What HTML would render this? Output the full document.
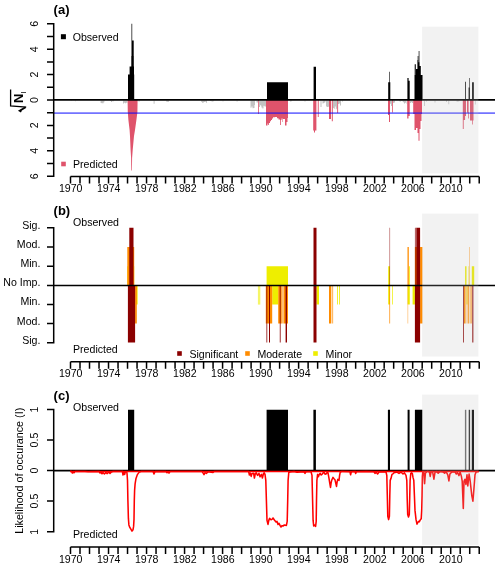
<!DOCTYPE html>
<html><head><meta charset="utf-8"><title>figure</title>
<style>
html,body{margin:0;padding:0;background:#fff}
svg{display:block}
text{font-family:"Liberation Sans",sans-serif;fill:#000}
.t{font-size:10.6px}
.l{font-size:10.6px}
.h{font-size:13px;font-weight:bold}
.ax{stroke:#000;stroke-width:1.5;fill:none}
</style></head><body>
<svg width="500" height="568" viewBox="0 0 500 568">
<rect width="500" height="568" fill="#fff"/>
<!-- panel a -->
<path d="M70.8 100.5H71.6V101.0H70.8ZM75.2 100.5H76.0V101.2H75.2ZM100.6 100.5H101.6V102.9H100.6ZM101.6 100.5H102.6V103.3H101.6ZM102.6 100.5H103.6V103.3H102.6ZM103.6 100.5H104.4V102.3H103.6ZM110.0 100.5H111.0V101.1H110.0ZM111.0 100.5H112.0V101.9H111.0ZM112.0 100.5H113.0V101.3H112.0ZM113.0 100.5H114.0V101.3H113.0ZM123.0 100.5H124.0V103.5H123.0ZM124.0 100.5H125.0V102.7H124.0ZM125.0 100.5H126.0V103.2H125.0ZM126.0 100.5H127.0V102.7H126.0ZM127.0 100.5H127.4V102.9H127.0ZM138.4 100.5H139.4V101.5H138.4ZM139.4 100.5H139.6V102.1H139.4ZM153.6 100.5H154.6V103.8H153.6ZM166.0 100.5H167.0V101.6H166.0ZM167.0 100.5H168.0V101.8H167.0ZM168.0 100.5H169.0V101.7H168.0ZM201.0 100.5H202.0V101.7H201.0ZM202.0 100.5H203.0V102.7H202.0ZM203.0 100.5H204.0V102.4H203.0ZM204.0 100.5H205.0V102.1H204.0ZM205.0 100.5H206.0V101.7H205.0ZM206.0 100.5H207.0V102.8H206.0ZM210.0 100.5H211.0V101.1H210.0ZM211.0 100.5H212.0V101.3H211.0ZM212.0 100.5H213.0V101.4H212.0ZM213.0 100.5H214.0V101.3H213.0ZM222.6 100.5H223.4V101.4H222.6ZM236.6 100.5H237.6V101.5H236.6ZM250.5 100.5H251.5V107.7H250.5ZM251.5 100.5H252.5V106.4H251.5ZM252.5 100.5H253.5V108.3H252.5ZM253.5 100.5H254.5V108.0H253.5ZM254.5 100.5H255.0V105.0H254.5ZM256.5 100.5H257.5V102.4H256.5ZM257.5 100.5H258.0V102.6H257.5ZM259.0 100.5H260.0V106.9H259.0ZM260.0 100.5H261.0V105.2H260.0ZM261.0 100.5H261.4V105.8H261.0ZM261.4 100.5H262.4V107.5H261.4ZM262.4 100.5H263.4V108.6H262.4ZM263.4 100.5H263.5V108.0H263.4ZM263.5 100.5H264.5V105.7H263.5ZM264.5 100.5H265.5V106.5H264.5ZM265.5 100.5H266.0V106.5H265.5ZM290.0 100.5H291.0V101.4H290.0ZM291.0 100.5H292.0V101.3H291.0ZM304.5 100.5H305.5V101.5H304.5ZM320.5 100.5H321.5V107.0H320.5ZM322.5 100.5H323.5V103.5H322.5ZM323.5 100.5H324.5V103.0H323.5ZM324.5 100.5H325.5V102.2H324.5ZM326.0 100.5H327.0V106.6H326.0ZM327.0 100.5H328.0V106.9H327.0ZM328.0 100.5H329.0V106.7H328.0ZM332.8 100.5H333.8V108.1H332.8ZM333.8 100.5H334.8V108.7H333.8ZM334.8 100.5H335.8V106.5H334.8ZM335.8 100.5H336.8V109.2H335.8ZM336.8 100.5H337.2V108.1H336.8ZM338.0 100.5H339.0V104.1H338.0ZM339.0 100.5H340.0V103.5H339.0ZM340.0 100.5H341.0V105.6H340.0ZM342.0 100.5H343.0V101.5H342.0ZM390.0 100.5H391.0V103.8H390.0ZM391.0 100.5H392.0V105.9H391.0ZM392.8 100.5H393.8V102.9H392.8ZM393.8 100.5H394.8V102.5H393.8ZM394.8 100.5H395.0V102.7H394.8ZM399.0 100.5H400.0V101.3H399.0ZM400.0 100.5H401.0V101.4H400.0ZM401.0 100.5H402.0V100.9H401.0ZM402.0 100.5H403.0V101.2H402.0ZM403.0 100.5H404.0V102.3H403.0ZM404.0 100.5H405.0V103.5H404.0ZM405.0 100.5H406.0V102.8H405.0ZM406.0 100.5H406.5V103.8H406.0ZM410.0 100.5H411.0V103.0H410.0ZM411.0 100.5H412.0V102.3H411.0ZM412.0 100.5H413.0V103.0H412.0ZM424.0 100.5H424.8V105.9H424.0ZM426.2 100.5H427.0V101.5H426.2ZM434.6 100.5H435.4V102.5H434.6ZM446.0 100.5H447.0V101.7H446.0ZM448.4 100.5H449.2V104.2H448.4ZM456.5 100.5H457.5V101.5H456.5ZM457.5 100.5H458.5V101.6H457.5ZM458.5 100.5H459.5V101.2H458.5ZM474.9 100.5H475.6V104.6H474.9Z" fill="#c2c2c2"/>
<path d="M258.1 100.0H258.9V114.0H258.1ZM266.0 100.0H267.5V125.5H266.0ZM267.5 100.0H268.2V123.5H267.5ZM268.2 100.0H269.0V125.0H268.2ZM269.0 100.0H270.0V123.0H269.0ZM270.0 100.0H271.0V121.2H270.0ZM271.0 100.0H272.0V120.0H271.0ZM272.0 100.0H273.0V118.5H272.0ZM273.0 100.0H275.0V117.2H273.0ZM275.0 100.0H277.0V117.0H275.0ZM277.0 100.0H278.5V118.2H277.0ZM278.5 100.0H280.0V119.5H278.5ZM280.0 100.0H280.8V125.0H280.0ZM280.8 100.0H281.5V120.0H280.8ZM281.5 100.0H282.5V118.5H281.5ZM282.5 100.0H283.0V122.0H282.5ZM283.0 100.0H285.0V119.0H283.0ZM285.0 100.0H286.5V125.5H285.0ZM286.5 100.0H287.5V122.0H286.5ZM287.5 100.0H288.0V118.0H287.5ZM313.2 100.0H316.4V130.5H313.2ZM314.0 130.5H315.0V132.5H314.0ZM317.8 100.0H318.7V117.0H317.8ZM329.0 100.0H331.0V119.0H329.0ZM331.8 100.0H332.8V121.2H331.8ZM337.2 100.0H338.1V113.0H337.2ZM388.0 100.0H390.0V115.0H388.0ZM389.0 115.0H390.0V122.0H389.0ZM392.0 100.0H392.8V112.5H392.0ZM407.2 100.0H409.7V116.0H407.2ZM407.2 116.0H408.5V118.5H407.2ZM413.2 100.0H422.0V114.0H413.2ZM414.5 114.0H421.5V121.0H414.5ZM414.5 121.0H420.5V128.0H414.5ZM414.5 128.0H416.0V130.0H414.5ZM417.5 128.0H420.5V129.0H417.5ZM417.5 129.0H419.5V133.0H417.5ZM418.5 133.0H419.5V140.7H418.5Z" fill="#df536b"/>
<path d="M127.6 100L127.8 112L128.4 120L129.6 130L130 136L130.6 150L131.1 158L131.3 170.6H131.9L132.1 158L132.7 150L134 136L135 130L136.4 120L137.4 112L137.6 100Z" fill="#df536b"/>
<path d="M462.8 100.0H463.7V129.0H462.8ZM463.7 100.0H465.1V120.0H463.7ZM465.1 100.0H466.0V116.0H465.1ZM467.0 100.0H468.6V112.8H467.0ZM468.2 112.0H468.9V118.5H468.2ZM470.0 100.0H473.5V120.6H470.0ZM472.1 120.0H472.8V124.5H472.1Z" fill="#df536b"/>
<path d="M53.7 113.1H495" stroke="#0000ff" stroke-opacity="0.55" stroke-width="1.8" fill="none"/>
<path d="M128.0 74.6H134.2V100.0H128.0ZM129.6 66.6H134.0V74.6H129.6ZM131.3 56.0H133.8V66.6H131.3ZM131.5 40.4H133.7V56.0H131.5ZM131.5 23.7H132.2V40.4H131.5ZM267.0 82.2H288.0V100.0H267.0ZM313.6 66.8H316.0V100.0H313.6ZM388.2 82.3H390.3V100.0H388.2ZM389.4 71.7H390.0V82.3H389.4ZM407.4 80.7H409.7V100.0H407.4ZM407.4 78.1H408.6V80.7H407.4ZM414.5 74.9H422.6V100.0H414.5ZM414.7 64.2H415.8V75.0H414.7ZM416.0 69.0H417.4V75.0H416.0ZM417.4 60.0H418.4V75.0H417.4ZM417.7 55.9H418.3V60.0H417.7ZM418.4 62.3H419.6V75.0H418.4ZM418.7 51.0H419.4V62.3H418.7ZM419.6 66.0H420.8V75.0H419.6Z" fill="#000"/>
<path d="M465.1 81.8H465.9V100.0H465.1ZM468.6 87.5H469.9V100.0H468.6ZM469.2 78.0H469.8V87.5H469.2ZM472.1 82.3H473.8V100.0H472.1Z" fill="#000"/>
<path d="M53.7 99.9H495" stroke="#000" stroke-width="1.6" fill="none"/>
<path class="ax" d="M53.7 23.05V176.95M47 23.80H53.7M47 36.50H53.7M47 49.20H53.7M47 61.90H53.7M47 74.60H53.7M47 87.30H53.7M47 100.00H53.7M47 112.70H53.7M47 125.40H53.7M47 138.10H53.7M47 150.80H53.7M47 163.50H53.7M47 176.20H53.7"/>
<text class="t" transform="translate(38 23.80000000000001) rotate(-90)" text-anchor="middle">6</text>
<text class="t" transform="translate(38 49.2) rotate(-90)" text-anchor="middle">4</text>
<text class="t" transform="translate(38 74.6) rotate(-90)" text-anchor="middle">2</text>
<text class="t" transform="translate(38 100.0) rotate(-90)" text-anchor="middle">0</text>
<text class="t" transform="translate(38 125.4) rotate(-90)" text-anchor="middle">2</text>
<text class="t" transform="translate(38 150.8) rotate(-90)" text-anchor="middle">4</text>
<text class="t" transform="translate(38 176.2) rotate(-90)" text-anchor="middle">6</text>
<rect x="422.1" y="26.7" width="56.3" height="146.7" fill="#bebebe" fill-opacity="0.2"/>
<path class="ax" d="M70.5 176.5H479.22M70.50 176.5v7M80.00 176.5v7M89.51 176.5v7M99.02 176.5v7M108.52 176.5v7M118.03 176.5v7M127.53 176.5v7M137.04 176.5v7M146.54 176.5v7M156.05 176.5v7M165.55 176.5v7M175.06 176.5v7M184.56 176.5v7M194.06 176.5v7M203.57 176.5v7M213.08 176.5v7M222.58 176.5v7M232.09 176.5v7M241.59 176.5v7M251.10 176.5v7M260.60 176.5v7M270.11 176.5v7M279.61 176.5v7M289.12 176.5v7M298.62 176.5v7M308.12 176.5v7M317.63 176.5v7M327.14 176.5v7M336.64 176.5v7M346.15 176.5v7M355.65 176.5v7M365.16 176.5v7M374.66 176.5v7M384.17 176.5v7M393.67 176.5v7M403.18 176.5v7M412.68 176.5v7M422.19 176.5v7M431.69 176.5v7M441.20 176.5v7M450.70 176.5v7M460.21 176.5v7M469.71 176.5v7M479.22 176.5v7"/>
<text class="t" x="70.7" y="192.1" text-anchor="middle">1970</text>
<text class="t" x="108.7" y="192.1" text-anchor="middle">1974</text>
<text class="t" x="146.7" y="192.1" text-anchor="middle">1978</text>
<text class="t" x="184.8" y="192.1" text-anchor="middle">1982</text>
<text class="t" x="222.8" y="192.1" text-anchor="middle">1986</text>
<text class="t" x="260.8" y="192.1" text-anchor="middle">1990</text>
<text class="t" x="298.8" y="192.1" text-anchor="middle">1994</text>
<text class="t" x="336.8" y="192.1" text-anchor="middle">1998</text>
<text class="t" x="374.9" y="192.1" text-anchor="middle">2002</text>
<text class="t" x="412.9" y="192.1" text-anchor="middle">2006</text>
<text class="t" x="450.9" y="192.1" text-anchor="middle">2010</text>
<text class="h" x="53.6" y="14.4">(a)</text>
<rect x="60.9" y="34.2" width="5" height="5" fill="#000"/><text class="l" x="72.7" y="40.5">Observed</text>
<rect x="61.2" y="161.7" width="4.6" height="4.6" fill="#df536b"/><text class="l" x="73" y="167.5">Predicted</text>
<g transform="translate(25 98.5) rotate(-90)"><text x="-4.6" y="-2" style="font-size:13px;font-weight:bold">N</text><text x="5" y="0.6" style="font-size:8px">I</text><path d="M-8.6 1.2L-7.3 -14.4H8.9" stroke="#000" stroke-width="1.3" fill="none"/><path d="M-13.2 -3.6L-12.3 -5.2L-8.8 0.6" stroke="#000" stroke-width="1.9" fill="none"/></g>
<!-- panel b -->
<path d="M266.6 266.2H288.0V285.5H266.6ZM127.3 266.2H134.2V285.5H127.3ZM388.2 266.2H390.0V285.5H388.2ZM408.7 266.2H409.8V285.5H408.7ZM136.0 285.5H137.6V304.6H136.0ZM272.2 285.5H278.2V304.6H272.2ZM316.5 285.5H319.0V304.6H316.5ZM337.0 285.5H337.8V304.6H337.0ZM339.0 285.5H339.8V304.6H339.0ZM388.2 285.5H390.0V304.6H388.2ZM392.2 285.5H392.9V304.6H392.2ZM407.6 285.5H409.8V304.6H407.6ZM412.6 285.5H414.9V304.6H412.6Z" fill="#eeee00"/>
<path d="M257.9 285.5H260.3V304.6H257.9Z" fill="#eeee00" fill-opacity="0.6"/>
<path d="M127.3 246.9H134.2V285.5H127.3ZM407.5 246.9H408.8V285.5H407.5ZM420.1 246.9H422.4V285.5H420.1ZM414.9 246.9H420.0V285.5H414.9ZM135.1 285.5H136.8V323.6H135.1ZM265.8 285.5H272.2V323.6H265.8ZM278.2 285.5H281.7V323.6H278.2ZM284.0 285.5H288.0V323.6H284.0ZM329.0 285.5H331.3V323.6H329.0ZM332.4 285.5H333.1V323.6H332.4ZM389.4 285.5H390.1V323.6H389.4ZM420.1 285.5H422.4V323.6H420.1Z" fill="#ff8c00"/>
<path d="M281.7 285.5H284.0V323.6H281.7ZM407.5 285.5H408.2V323.6H407.5Z" fill="#ff8c00" fill-opacity="0.55"/>
<path d="M129.3 227.7H133.5V285.5H129.3ZM313.5 227.7H316.5V285.5H313.5ZM416.4 227.7H420.1V285.5H416.4ZM127.9 285.5H135.1V342.6H127.9ZM269.0 285.5H270.0V342.6H269.0ZM279.8 285.5H280.6V342.6H279.8ZM285.6 285.5H287.0V342.6H285.6ZM313.5 285.5H316.5V342.6H313.5ZM414.9 285.5H420.1V342.6H414.9Z" fill="#8b0000"/>
<path d="M389.4 227.7H390.1V285.5H389.4ZM414.9 227.7H416.4V285.5H414.9ZM266.1 285.5H267.4V342.6H266.1Z" fill="#8b0000" fill-opacity="0.6"/>
<path d="M465.1 266.2H466.5V285.5H465.1ZM471.8 266.2H474.2V285.5H471.8ZM466.5 285.5H467.5V304.6H466.5Z" fill="#eeee00"/>
<path d="M468.2 266.2H469.2V285.5H468.2Z" fill="#eeee00" fill-opacity="0.5"/>
<path d="M469.3 246.9H470.0V285.5H469.3Z" fill="#ff8c00" fill-opacity="0.6"/>
<path d="M464.0 285.5H465.5V323.6H464.0ZM467.8 285.5H468.8V323.6H467.8ZM470.6 285.5H471.6V323.6H470.6Z" fill="#ff8c00"/>
<path d="M465.5 285.5H467.8V323.6H465.5ZM468.8 285.5H470.6V323.6H468.8Z" fill="#ff8c00" fill-opacity="0.28"/>
<path d="M463.1 285.5H464.0V342.6H463.1ZM472.2 285.5H473.4V342.6H472.2Z" fill="#8b0000" fill-opacity="0.9"/>
<path d="M53.7 285.5H495" stroke="#000" stroke-width="1.4" fill="none"/>
<rect x="422.1" y="213.6" width="56.3" height="143.0" fill="#bebebe" fill-opacity="0.2"/>
<path class="ax" d="M53.7 226.91V343.40M47 227.66H53.7M47 246.94H53.7M47 266.22H53.7M47 285.50H53.7M47 304.55H53.7M47 323.60H53.7M47 342.65H53.7"/>
<text class="t" x="40.4" y="228.6" text-anchor="end">Sig.</text>
<text class="t" x="40.4" y="247.8" text-anchor="end">Mod.</text>
<text class="t" x="40.4" y="267.1" text-anchor="end">Min.</text>
<text class="t" x="40.4" y="286.4" text-anchor="end">No Imp.</text>
<text class="t" x="40.4" y="305.4" text-anchor="end">Min.</text>
<text class="t" x="40.4" y="324.5" text-anchor="end">Mod.</text>
<text class="t" x="40.4" y="343.5" text-anchor="end">Sig.</text>
<path class="ax" d="M70.5 361.75H479.22M70.50 361.75v7M80.00 361.75v7M89.51 361.75v7M99.02 361.75v7M108.52 361.75v7M118.03 361.75v7M127.53 361.75v7M137.04 361.75v7M146.54 361.75v7M156.05 361.75v7M165.55 361.75v7M175.06 361.75v7M184.56 361.75v7M194.06 361.75v7M203.57 361.75v7M213.08 361.75v7M222.58 361.75v7M232.09 361.75v7M241.59 361.75v7M251.10 361.75v7M260.60 361.75v7M270.11 361.75v7M279.61 361.75v7M289.12 361.75v7M298.62 361.75v7M308.12 361.75v7M317.63 361.75v7M327.14 361.75v7M336.64 361.75v7M346.15 361.75v7M355.65 361.75v7M365.16 361.75v7M374.66 361.75v7M384.17 361.75v7M393.67 361.75v7M403.18 361.75v7M412.68 361.75v7M422.19 361.75v7M431.69 361.75v7M441.20 361.75v7M450.70 361.75v7M460.21 361.75v7M469.71 361.75v7M479.22 361.75v7"/>
<text class="t" x="70.7" y="377.4" text-anchor="middle">1970</text>
<text class="t" x="108.7" y="377.4" text-anchor="middle">1974</text>
<text class="t" x="146.7" y="377.4" text-anchor="middle">1978</text>
<text class="t" x="184.8" y="377.4" text-anchor="middle">1982</text>
<text class="t" x="222.8" y="377.4" text-anchor="middle">1986</text>
<text class="t" x="260.8" y="377.4" text-anchor="middle">1990</text>
<text class="t" x="298.8" y="377.4" text-anchor="middle">1994</text>
<text class="t" x="336.8" y="377.4" text-anchor="middle">1998</text>
<text class="t" x="374.9" y="377.4" text-anchor="middle">2002</text>
<text class="t" x="412.9" y="377.4" text-anchor="middle">2006</text>
<text class="t" x="450.9" y="377.4" text-anchor="middle">2010</text>
<text class="h" x="53.6" y="214.7">(b)</text>
<text class="l" x="73" y="225.7">Observed</text>
<text class="l" x="73" y="352.5">Predicted</text>
<rect x="177.2" y="351.2" width="4.6" height="4.6" fill="#8b0000"/><text class="l" x="189.4" y="357.6">Significant</text>
<rect x="245.2" y="351.2" width="4.6" height="4.6" fill="#ff8c00"/><text class="l" x="257.4" y="357.6">Moderate</text>
<rect x="313.2" y="351.2" width="4.6" height="4.6" fill="#eeee00"/><text class="l" x="325.6" y="357.6">Minor</text>
<!-- panel c -->
<path d="M128.0 409.8H134.2V470.5H128.0ZM266.6 409.8H288.0V470.5H266.6ZM313.4 409.8H315.9V470.5H313.4ZM387.9 409.8H390.0V470.5H387.9ZM407.6 409.8H409.6V470.5H407.6ZM414.9 409.8H422.3V470.5H414.9Z" fill="#000"/>
<path d="M464.9 409.8H466.3V470.5H464.9Z" fill="#000" fill-opacity="0.6"/>
<path d="M468.7 409.8H470.1V470.5H468.7Z" fill="#000" fill-opacity="0.85"/>
<path d="M471.8 409.8H474.0V470.5H471.8Z" fill="#000"/>
<path d="M53.7 470.7H495" stroke="#000" stroke-width="1.8" fill="none"/>
<path d="M70 471.4H478.7" stroke="#ff0000" stroke-width="1.5" fill="none"/>
<path d="M70.2 471.2L71.5 471.4L72.4 473.0L73.2 471.6L74.0 472.8L75.0 471.4L85.0 471.4L88.0 471.7L99.0 471.4L100.0 473.0L101.0 472.0L102.0 473.8L103.0 472.4L104.4 474.0L106.0 472.4L107.0 473.6L108.6 472.2L110.0 473.4L111.4 472.0L113.0 471.6L122.4 471.4L123.0 475.0L123.8 472.4L124.6 474.4L125.4 471.8L126.8 471.8L127.1 474.4L127.5 480.4L127.9 500.4L128.4 518.4L128.9 524.9L129.8 527.4L131.0 529.4L132.0 531.1L133.0 529.8L133.6 526.4L134.0 519.4L134.3 500.4L134.6 490.4L135.1 483.9L136.0 478.4L137.4 474.6L139.0 472.4L141.0 471.6L153.0 471.4L154.0 474.0L155.0 471.6L166.0 471.6L167.0 472.8L168.0 471.6L169.0 473.2L170.0 471.6L186.0 471.4L202.0 471.6L203.0 472.8L204.0 474.6L205.0 472.6L206.4 473.4L208.0 471.8L213.0 472.4L214.0 471.6L236.0 471.4L248.6 471.4L249.4 475.0L250.2 473.0L251.2 476.4L252.0 473.4L253.6 473.2L254.4 478.0L255.4 473.4L256.2 472.8L257.6 475.4L259.0 473.4L260.0 476.8L261.4 474.4L262.4 478.0L263.4 473.8L264.2 472.8L265.0 474.4L265.8 480.4L266.4 500.4L267.0 520.4L268.0 524.4L268.8 520.4L269.6 518.4L271.0 519.8L272.0 519.4L273.0 518.0L274.4 520.0L276.0 522.0L277.0 521.4L278.0 524.4L279.0 523.4L280.0 525.4L281.0 527.0L282.0 525.6L283.0 526.0L284.4 525.0L286.4 525.4L287.2 521.4L287.7 500.4L288.1 480.4L288.8 472.4L290.0 472.0L294.0 471.4L297.0 472.2L304.0 471.8L305.0 473.4L306.0 471.8L311.0 471.8L312.0 475.4L312.6 500.4L313.1 520.4L313.7 526.0L314.6 525.0L315.6 526.4L316.2 521.4L316.5 500.4L316.9 480.4L317.6 474.4L318.4 476.8L319.4 474.0L320.2 473.4L321.0 475.0L322.0 474.4L323.0 473.0L324.0 472.4L325.0 474.2L326.0 474.0L327.0 472.6L328.0 472.8L329.0 478.4L329.8 483.4L330.5 487.4L331.2 482.4L331.8 480.0L333.0 477.4L334.0 478.8L335.0 479.8L335.8 483.4L336.5 486.4L337.2 481.4L337.8 479.4L339.0 480.4L339.6 475.4L340.2 472.4L342.0 471.4L350.0 471.8L350.6 474.8L351.3 471.8L355.0 471.4L355.7 473.4L356.4 471.8L366.0 471.4L374.0 471.8L375.0 473.4L376.4 472.4L377.6 474.0L379.0 472.0L386.0 472.0L386.8 475.4L387.3 495.4L387.8 516.4L388.6 519.6L389.4 516.4L389.8 495.4L390.2 480.4L391.0 478.4L392.0 474.4L393.0 473.8L394.0 472.8L397.0 472.0L399.0 473.4L401.0 472.0L403.0 474.0L404.4 472.8L406.0 475.4L406.8 480.4L407.2 498.4L407.7 514.4L408.5 517.0L409.3 514.4L409.7 498.4L410.1 480.4L410.8 473.4L411.6 472.8L412.4 473.8L413.0 477.4L413.8 480.4L414.4 495.4L415.0 510.4L416.0 519.4L417.0 524.1L417.8 522.4L418.6 521.4L419.4 521.8L420.2 520.0L421.2 518.8L421.7 510.4L422.1 495.4L422.4 476.4L422.8 471.8L423.8 471.8L424.6 483.6L425.4 473.2L426.5 471.9L427.8 471.4L429.4 471.9L430.2 476.4L431.0 472.4L432.6 471.6L433.9 479.2L435.0 472.4L436.6 471.6L438.2 473.2L439.8 471.6L443.0 471.9L444.6 473.2L446.2 471.9L447.8 474.8L448.9 480.9L449.9 474.0L451.8 471.9L455.0 471.9L456.3 474.0L457.4 472.4L459.0 475.6L460.1 471.9L461.4 476.4L462.2 481.2L463.3 508.4L464.0 481.2L464.9 479.2L465.9 484.4L467.0 474.8L467.8 486.0L469.1 474.0L470.2 481.2L471.8 495.6L472.9 501.2L473.9 489.2L475.0 474.8L476.1 471.9L478.7 471.4" stroke="#ff0000" stroke-width="1.55" fill="none" stroke-linejoin="round"/>
<rect x="422.1" y="394.6" width="56.3" height="150.3" fill="#bebebe" fill-opacity="0.2"/>
<path class="ax" d="M53.7 408.75V532.45M47 409.50H53.7M47 440.10H53.7M47 470.50H53.7M47 501.10H53.7M47 531.70H53.7"/>
<text class="t" transform="translate(38 409.5) rotate(-90)" text-anchor="middle">1</text>
<text class="t" transform="translate(38 440.1) rotate(-90)" text-anchor="middle">0.5</text>
<text class="t" transform="translate(38 470.5) rotate(-90)" text-anchor="middle">0</text>
<text class="t" transform="translate(38 501.1) rotate(-90)" text-anchor="middle">0.5</text>
<text class="t" transform="translate(38 531.7) rotate(-90)" text-anchor="middle">1</text>
<path class="ax" d="M70.5 547.0H479.22M70.50 547.0v7M80.00 547.0v7M89.51 547.0v7M99.02 547.0v7M108.52 547.0v7M118.03 547.0v7M127.53 547.0v7M137.04 547.0v7M146.54 547.0v7M156.05 547.0v7M165.55 547.0v7M175.06 547.0v7M184.56 547.0v7M194.06 547.0v7M203.57 547.0v7M213.08 547.0v7M222.58 547.0v7M232.09 547.0v7M241.59 547.0v7M251.10 547.0v7M260.60 547.0v7M270.11 547.0v7M279.61 547.0v7M289.12 547.0v7M298.62 547.0v7M308.12 547.0v7M317.63 547.0v7M327.14 547.0v7M336.64 547.0v7M346.15 547.0v7M355.65 547.0v7M365.16 547.0v7M374.66 547.0v7M384.17 547.0v7M393.67 547.0v7M403.18 547.0v7M412.68 547.0v7M422.19 547.0v7M431.69 547.0v7M441.20 547.0v7M450.70 547.0v7M460.21 547.0v7M469.71 547.0v7M479.22 547.0v7"/>
<text class="t" x="70.7" y="562.6" text-anchor="middle">1970</text>
<text class="t" x="108.7" y="562.6" text-anchor="middle">1974</text>
<text class="t" x="146.7" y="562.6" text-anchor="middle">1978</text>
<text class="t" x="184.8" y="562.6" text-anchor="middle">1982</text>
<text class="t" x="222.8" y="562.6" text-anchor="middle">1986</text>
<text class="t" x="260.8" y="562.6" text-anchor="middle">1990</text>
<text class="t" x="298.8" y="562.6" text-anchor="middle">1994</text>
<text class="t" x="336.8" y="562.6" text-anchor="middle">1998</text>
<text class="t" x="374.9" y="562.6" text-anchor="middle">2002</text>
<text class="t" x="412.9" y="562.6" text-anchor="middle">2006</text>
<text class="t" x="450.9" y="562.6" text-anchor="middle">2010</text>
<text class="h" x="53.6" y="399.8">(c)</text>
<text class="l" x="73" y="411">Observed</text>
<text class="l" x="73" y="538">Predicted</text>
<text class="l" style="font-size:10.75px" transform="translate(23.2 470.8) rotate(-90)" text-anchor="middle">Likelihood of occurance (I)</text>
</svg>
</body></html>
